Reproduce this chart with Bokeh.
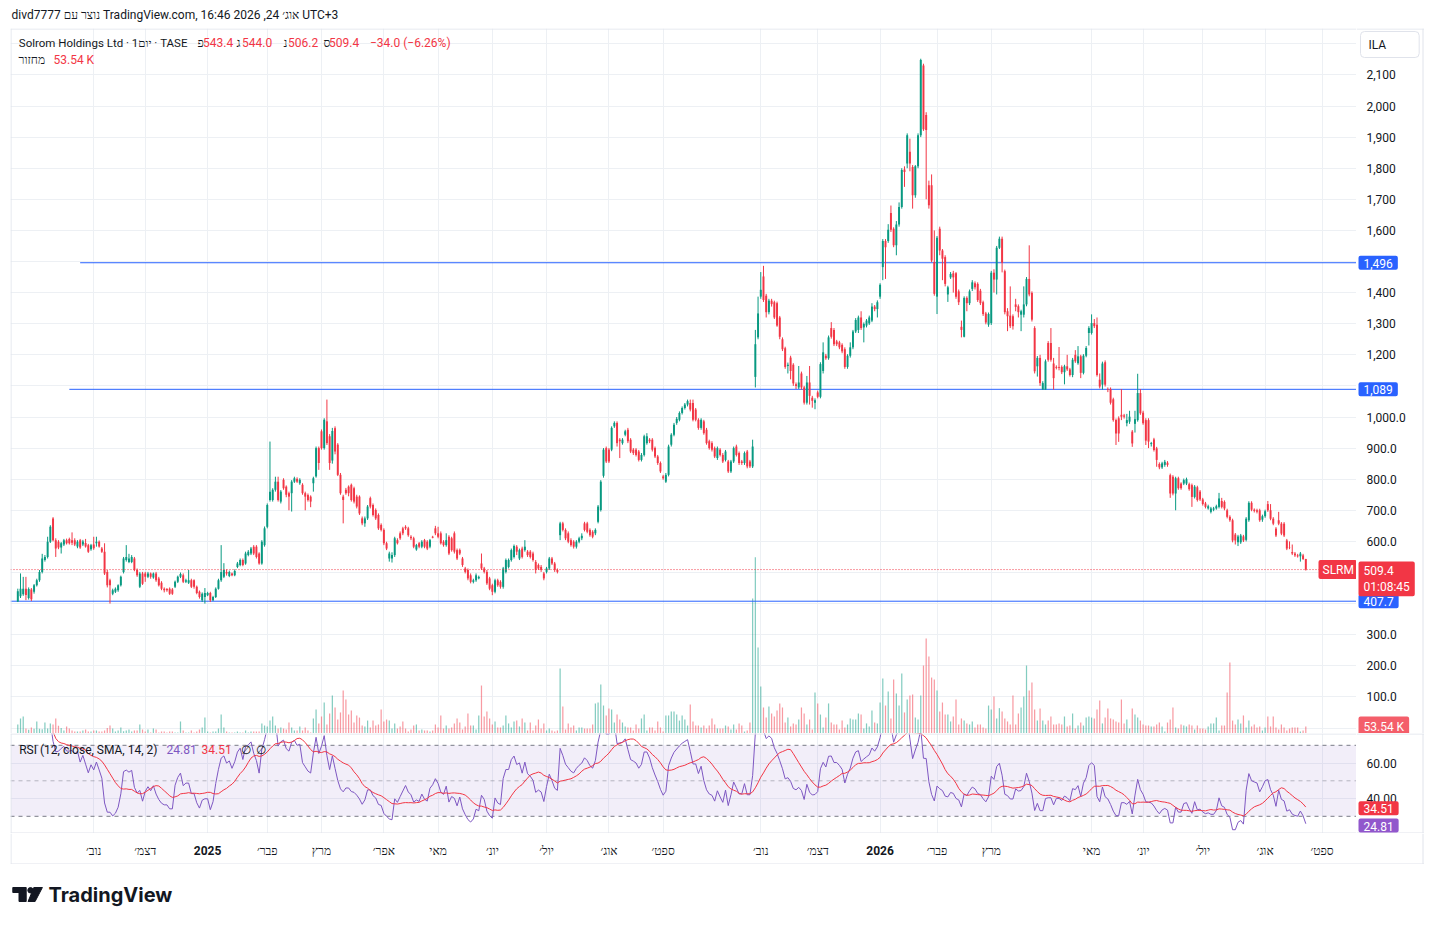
import pandas as pd
from bokeh.plotting import figure
from bokeh.models import Range1d, FixedTicker, ColumnDataSource, Span, Label, BoxAnnotation
from bokeh.layouts import column, row
from bokeh.embed import file_html
from bokeh.resources import INLINE
from bokeh.core.properties import value

# ---------------- data ----------------
opens = [
    407,424,430,448,418,445,438,459,475,502,
    540,550,599,674,604,599,580,590,604,608,
    604,604,584,604,590,595,588,575,590,594,
    599,577,567,502,475,432,438,443,459,502,
    540,534,534,545,508,454,497,497,486,497,
    484,497,481,467,448,447,448,445,454,470,
    486,491,470,467,475,475,454,438,411,421,
    427,434,411,421,448,475,486,502,489,497,
    491,518,524,540,529,556,561,583,583,561,
    529,588,647,733,733,766,792,728,798,776,
    755,755,792,801,787,782,755,749,744,787,
    809,900,954,900,986,938,
    860,964,911,814,
    744,766,776,782,771,744,744,674,658,674,
    739,717,701,685,653,637,594,545,545,556,
    604,626,642,647,642,615,610,574,594,583,
    604,599,583,615,642,626,626,599,588,615,
    610,626,572,572,545,513,508,491,470,475,
    481,529,513,502,481,459,438,475,470,454,
    502,518,540,550,583,545,577,572,567,567,
    561,534,524,518,497,502,513,545,529,508,
    620,658,637,626,604,599,583,599,610,658,
    658,637,631,626,663,701,811,900,895,895,
    970,981,927,916,943,959,927,895,895,889,
    862,878,916,927,927,900,873,852,809,792,
    814,911,943,981,991,1013,1029,1040,1045,1045,
    1024,991,965,986,959,922,916,900,868,895,
    878,862,857,825,857,905,884,857,852,889,
    857,841,
    1129,1256,1387,1452,1390,1337,1374,1369,
    1366,1320,1250,1221,1164,1191,1168,1105,1095,1140,
    1095,1046,1111,1062,1046,1079,1065,1148,1197,1189,
    1286,1280,1243,1240,1232,1218,1161,1197,1224,1275,
    1280,1320,1288,1294,1301,1310,1355,1347,1387,1482,
    1566,1566,1656,1605,1552,1619,1675,1796,1815,1853,
    1804,1713,1806,1906,2130,1971,1745,1745,1498,1387,
    1605,1535,1514,1394,1449,1462,1462,1404,1290,1258,
    1383,1366,1412,1430,1428,1406,1369,1333,1297,
    1302,
    1464,1442,1544,1573,1469,1340,1326,1324,1362,1356,
    1329,1329,1362,1444,1399,1286,1163,1190,1088,1088,
    1238,1238,1172,1161,1161,1161,1144,1163,1153,1135,
    1200,1173,1195,1142,1197,1270,1270,1302,1297,1120,
    1104,1176,1090,1090,1057,990,996,1007,1005,980,
    985,953,978,990,1077,1014,990,990,913,928,
    899,849,838,846,853,813,808,754,803,786,
    786,786,784,781,743,774,760,735,722,706,
    695,702,706,711,730,727,700,679,668,622,
    597,597,616,605,668,724,702,700,700,670,
    681,720,700,673,641,668,657,657,603,581,
    566,561,555,552,555,543.4,
]
highs = [
    448,497,486,486,452,450,463,480,508,560,
    556,615,652,678,610,604,598,608,609,612,
    629,610,604,608,605,608,592,592,615,615,
    603,582,594,508,480,448,452,462,490,550,
    588,560,556,550,513,502,502,502,502,500,
    500,502,486,472,452,450,452,450,474,490,
    500,497,480,508,480,478,458,442,436,450,
    438,438,425,452,480,588,530,510,506,500,
    510,534,545,545,567,572,582,588,588,565,
    604,648,722,921,771,808,808,765,803,780,
    760,797,808,806,803,787,760,754,748,808,
    905,905,960,996,1056,945,
    965,970,916,820,
    750,772,780,786,776,750,748,680,680,717,
    744,722,706,690,658,642,599,567,565,615,
    610,632,647,652,647,620,615,592,598,604,
    608,604,608,618,650,647,632,604,626,620,
    615,632,577,577,550,518,513,497,480,497,
    490,561,518,508,486,464,480,480,475,518,
    545,545,577,590,588,577,583,604,572,572,
    567,540,529,524,502,518,550,550,534,513,
    663,663,642,632,610,604,604,615,626,663,
    663,642,636,642,717,797,900,905,900,970,
    986,986,932,932,959,965,932,900,900,894,
    884,943,948,932,932,905,878,857,814,820,
    911,948,981,1000,1018,1034,1045,1056,1056,1056,
    1029,996,996,991,965,927,922,905,905,900,
    884,894,862,862,905,911,889,862,889,894,
    862,927,
    1280,1387,1466,1486,1396,1380,1380,1374,
    1371,1325,1256,1226,1175,1197,1173,1111,1164,1146,
    1100,1132,1164,1068,1060,1085,1176,1240,1203,1262,
    1305,1286,1248,1245,1237,1224,1202,1240,1280,1318,
    1326,1340,1304,1315,1326,1366,1360,1375,1430,1572,
    1572,1620,1680,1610,1630,1690,1800,1806,1912,1895,
    1810,1810,1912,2152,2136,1980,1760,1780,1600,1582,
    1612,1540,1520,1422,1466,1470,1466,1410,1310,1388,
    1388,1410,1440,1436,1433,1412,1374,1338,1336,
    1470,
    1475,1550,1580,1580,1474,1350,1420,1330,1380,1362,
    1345,1420,1450,1552,1404,1292,1196,1200,1115,1185,
    1244,1286,1190,1166,1225,1166,1168,1200,1158,1190,
    1215,1228,1200,1202,1228,1292,1330,1315,1320,1140,
    1178,1182,1095,1095,1062,995,1002,1090,1010,1010,
    1020,958,1020,1139,1090,1020,996,996,920,933,
    904,854,856,862,858,818,813,808,808,790,
    802,805,789,786,781,779,765,740,727,718,
    711,711,718,756,740,732,705,684,673,627,
    621,624,621,678,729,729,706,705,705,686,
    702,730,720,678,646,695,662,662,608,600,
    590,566,560,566,560,544.0,
]
lows = [
    405,418,425,411,413,408,432,455,470,497,
    535,545,595,600,550,575,561,585,590,590,
    588,585,578,576,585,580,563,570,573,583,
    580,563,492,452,400,427,434,438,455,497,
    535,530,530,504,486,450,460,470,482,480,
    480,470,455,443,436,438,428,428,450,466,
    482,466,466,463,450,448,430,416,405,400,
    424,405,408,418,445,470,482,490,485,488,
    488,514,520,520,525,552,556,556,545,525,
    525,583,642,728,728,760,728,722,766,742,
    700,696,788,788,782,750,700,728,710,760,
    805,830,895,895,910,830,
    850,880,810,750,
    658,750,745,728,722,706,685,652,647,669,
    706,680,669,637,632,588,572,535,532,550,
    590,605,620,637,615,604,578,570,578,578,
    578,572,578,610,620,610,590,583,583,556,
    567,561,540,556,518,497,475,465,465,470,
    478,508,497,460,443,427,433,454,448,448,
    497,513,535,545,556,540,545,567,550,545,
    535,497,508,502,475,497,508,524,502,497,
    604,632,604,594,583,577,577,594,604,632,
    626,615,610,620,658,696,805,852,852,890,
    965,905,868,911,938,916,884,878,873,857,
    857,873,911,916,889,868,846,820,798,788,
    809,905,938,975,986,1008,1024,1034,1018,986,
    986,959,959,943,911,895,889,868,862,873,
    852,857,820,820,852,873,846,846,846,835,
    836,836,
    1095,1250,1380,1370,1320,1330,1355,1315,
    1290,1250,1212,1155,1140,1121,1100,1090,1090,1088,
    1040,1040,1040,1030,1025,1060,1060,1140,1184,1184,
    1252,1228,1228,1218,1205,1155,1155,1191,1218,1270,
    1270,1280,1240,1288,1296,1305,1340,1320,1380,1440,
    1444,1560,1595,1546,1520,1612,1670,1740,1800,1790,
    1670,1705,1800,1900,1920,1700,1670,1498,1390,1331,
    1520,1440,1420,1370,1444,1400,1380,1360,1256,1256,
    1340,1360,1405,1410,1370,1360,1325,1298,1290,
    1296,
    1400,1394,1540,1465,1330,1276,1286,1281,1340,1320,
    1276,1320,1356,1388,1307,1140,1130,1100,1088,1088,
    1178,1178,1088,1153,1150,1138,1105,1148,1130,1128,
    1174,1168,1125,1137,1192,1230,1265,1286,1130,1092,
    1088,1098,1080,1040,985,910,920,990,995,970,
    978,904,950,985,1007,975,910,900,905,889,
    840,832,833,840,840,740,748,700,766,766,
    781,781,763,711,738,728,730,715,706,702,
    690,697,702,706,706,700,674,663,597,590,
    585,592,598,600,663,697,693,690,663,663,
    676,695,668,652,614,652,620,614,572,575,
    556,550,548,535,540,506.2,
]
closes = [
    440,448,448,428,447,414,459,475,502,545,
    550,599,647,604,577,580,594,604,594,594,
    596,590,599,580,600,584,567,588,578,599,
    584,567,497,459,459,443,448,459,486,545,
    550,545,550,508,491,497,464,486,497,486,
    497,475,459,448,443,443,432,432,470,486,
    495,470,475,475,454,454,434,421,432,434,
    434,411,421,448,475,502,508,497,502,491,
    505,529,540,524,561,567,577,561,550,529,
    599,642,717,760,766,792,733,760,771,750,
    744,792,803,792,798,755,744,733,728,803,
    900,852,900,991,916,852,
    955,889,814,755,
    733,755,755,733,728,712,690,658,674,712,
    712,685,674,642,637,594,577,561,556,610,
    594,610,626,642,620,610,583,588,583,599,
    583,577,604,612,626,615,594,588,604,561,
    572,567,545,561,524,502,481,470,475,491,
    486,513,502,465,448,438,475,459,454,513,
    540,540,572,585,567,572,550,583,556,550,
    540,508,513,508,481,513,545,529,508,502,
    658,637,610,599,588,583,599,610,618,637,
    631,620,615,637,712,792,895,857,857,965,
    981,916,922,927,954,922,889,884,878,862,
    878,938,938,922,895,873,852,825,803,814,
    905,943,975,994,1013,1029,1040,1051,1024,991,
    991,965,991,948,916,900,895,873,900,878,
    857,889,825,857,900,878,852,852,884,841,
    841,905,
    1234,1333,1409,1376,1337,1374,1363,1320,
    1294,1258,1218,1161,1168,1148,1108,1100,1111,1095,
    1046,1111,1068,1052,1054,1065,1170,1208,1189,1256,
    1258,1234,1234,1224,1211,1161,1197,1224,1275,1312,
    1320,1286,1299,1310,1320,1355,1347,1369,1425,1566,
    1546,1602,1602,1552,1619,1675,1794,1788,1906,1815,
    1713,1806,1906,2148,1925,1923,1681,1503,1396,1576,
    1535,1509,1428,1417,1460,1449,1387,1369,1280,1383,
    1366,1404,1433,1417,1376,1366,1331,1304,1331,
    1464,
    1442,1544,1573,1496,1337,1324,1292,1292,1354,1337,
    1340,1362,1444,1394,1313,1147,1190,1109,1109,1179,
    1184,1184,1125,1158,1158,1144,1163,1153,1135,1184,
    1179,1195,1142,1197,1222,1286,1302,1292,1135,1098,
    1172,1104,1088,1046,990,947,947,1001,1001,990,
    1001,915,993,1077,1012,980,924,921,916,894,
    862,838,851,856,846,754,754,803,771,771,
    797,800,768,743,776,733,735,720,711,713,
    706,706,713,738,711,706,679,668,603,603,
    616,619,603,673,724,702,698,695,668,681,
    697,700,673,657,619,657,625,619,577,580,
    561,555,552,561,543.4,509.4,
]
# volume in thousands of shares
volumes = [
    69,115,130,38,28,46,36,92,36,33,
    84,38,77,69,115,59,43,23,54,38,
    23,15,15,15,23,31,15,15,23,23,
    15,15,23,43,61,38,15,23,46,18,
    23,31,15,23,23,69,31,15,31,8,
    38,31,8,15,15,8,15,15,8,8,
    92,23,8,8,23,8,15,31,46,122,
    15,8,15,15,38,145,46,15,8,8,
    8,15,8,8,23,8,15,15,15,15,
    77,61,54,99,130,61,38,46,38,31,
    84,46,23,23,54,23,46,23,8,115,
    184,77,130,237,69,153,291,199,107,161,
    329,260,145,176,84,138,122,61,54,99,
    46,99,61,69,184,92,107,99,38,77,
    38,54,92,38,15,31,61,69,23,31,
    23,23,15,23,69,46,138,38,61,38,
    46,77,115,84,31,54,153,61,61,31,
    138,367,130,168,115,69,92,46,46,61,
    138,77,46,92,99,54,115,84,23,84,
    23,61,107,38,77,23,38,23,15,23,
    497,207,31,77,46,61,23,46,46,38,
    38,38,69,230,237,375,214,138,191,184,
    84,145,107,84,54,46,46,23,69,38,
    115,145,23,46,46,23,92,46,15,138,
    138,
    168,168,145,99,138,107,61,222,92,61,
    61,46,61,38,61,115,69,38,38,38,
    61,54,31,69,31,77,61,15,23,84,
    1033,1349,658,360,199,122,207,153,130,176,
    230,199,84,122,54,77,69,107,199,153,
    69,107,31,314,230,145,46,122,230,84,
    69,69,31,99,46,69,115,107,107,153,
    145,38,77,54,176,84,77,237,421,214,
    321,115,413,306,214,459,161,260,291,298,
    122,107,291,520,727,589,428,413,329,168,
    237,145,145,92,130,260,69,115,99,77,
    69,92,46,69,69,46,38,214,184,283,
    115,194,168,115,92,69,291,69,153,199,
    283,520,329,390,184,99,191,99,69,99,
    130,69,69,77,69,130,54,61,153,38,
    61,84,61,122,130,122,115,184,252,77,
    122,191,115,107,92,84,260,77,107,38,
    191,145,122,99,69,61,61,54,54,69,
    84,54,15,84,107,199,46,38,69,61,
    54,69,61,31,61,38,38,31,54,77,
    77,122,23,61,61,314,543,99,69,107,
    77,138,46,99,54,69,46,54,23,46,
    130,54,130,46,31,69,46,23,38,46,
    46,46,15,23,53.54,
]

month_ticks = [28, 47, 70, 92, 112, 135, 155, 175, 195, 218, 238,
               274, 295, 318, 339, 359, 396, 415, 437, 460, 481]
month_labels = ["נוב׳", "דצמ׳", "2025", "פבר׳", "מרץ", "אפר׳", "מאי", "יונ׳", "יול׳", "אוג׳", "ספט׳",
                "נוב׳", "דצמ׳", "2026", "פבר׳", "מרץ", "מאי", "יונ׳", "יול׳", "אוג׳", "ספט׳"]
price_ticks = [100, 200, 300, 600, 700, 800, 900, 1000, 1200, 1300, 1400,
               1600, 1700, 1800, 1900, 2000, 2100]
price_labels = ["100.0", "200.0", "300.0", "600.0", "700.0", "800.0", "900.0", "1,000.0",
                "1,200", "1,300", "1,400", "1,600", "1,700", "1,800", "1,900", "2,000", "2,100"]
price_grid = [0, 100, 200, 300, 400, 500, 600, 700, 800, 900, 1000, 1100,
              1200, 1300, 1400, 1500, 1600, 1700, 1800, 1900, 2000, 2100, 2200]
rsi_ticks = [40, 60]
rsi_labels = ["40.00", "60.00"]
levels = [1496.0, 1089.0, 407.7]
level_anchor_bars = [23, 19, -3]
rsi_len, rsi_sma_len = 12, 14
rsi_shown, rsi_sma_shown = 24.81, 34.51
header = "divd7777 נוצר עם TradingView.com, אוג׳ 24, 2026 16:46 UTC+3"
symbol_title = "Solrom Holdings Ltd · 1יום · TASE"
countdown = "01:08:45"

# ---------------- styling / geometry (page pixels) ----------------
FONT = "Roboto"
DARK = "#131722"
UP, DOWN = "#089981", "#F23645"
BLUE = "#2962FF"
PURPLE = "#7E57C2"
GRID = "#EDF0F4"
EDGE = "#E0E3EB"

BAR0_PX, BAR_PX = 17.3, 1288 / 475
FRAME_L, FRAME_R, PAGE_R = 10, 1356, 1424
P_Y1000, P_SLOPE = 416.5, 0.311
R_Y50, R_SLOPE = 780.3, 1.775
VOL_PER_PX = 7.65


def bx(px):
    return (px - BAR0_PX) / BAR_PX


def py(y):
    return 1000 + (P_Y1000 - y) / P_SLOPE


def ry(y):
    return 50 + (R_Y50 - y) / R_SLOPE


def bare(fig):
    fig.grid.visible = False
    fig.outline_line_color = None
    fig.background_fill_color = "white"
    fig.border_fill_color = "white"


def add_label(fig, x, y, text, color=DARK, size="12px", bold=False, align="left",
              baseline="middle", bg=None, pad=None, border=None, radius=0):
    kw = dict(x=x, y=y, text=text, text_color=color, text_font=FONT, text_font_size=size,
              text_font_style="bold" if bold else "normal", text_align=align,
              text_baseline=baseline)
    if bg is not None:
        kw.update(background_fill_color=bg, background_fill_alpha=1.0, border_radius=radius)
    if pad is not None:
        kw.update(padding=pad)
    if border is not None:
        kw.update(border_line_color=border, border_line_alpha=1.0, border_line_width=1)
    fig.add_layout(Label(**kw))


def edge(fig, loc, dim):
    fig.add_layout(Span(location=loc, dimension=dim, line_color=EDGE, line_width=1))


def fmt_price(v):
    return f"{v:,.0f}" if v >= 1000 else f"{v:.1f}"


n = len(closes)
idx = list(range(n))
cols = [UP if c >= o else DOWN for o, c in zip(opens, closes)]
src = ColumnDataSource(dict(
    x=idx, h=highs, l=lows,
    top=[max(o, c) for o, c in zip(opens, closes)],
    bot=[min(o, c) for o, c in zip(opens, closes)],
    col=cols, v=volumes,
))

# RSI(12) as TradingView computes it (RMA seeded with an SMA), then its SMA(14)
gains = [0.0] + [max(b - a, 0.0) for a, b in zip(closes[:-1], closes[1:])]
losses = [0.0] + [max(a - b, 0.0) for a, b in zip(closes[:-1], closes[1:])]
nan = float("nan")
ag, al = [nan] * n, [nan] * n
ag[rsi_len] = sum(gains[1:rsi_len + 1]) / rsi_len
al[rsi_len] = sum(losses[1:rsi_len + 1]) / rsi_len
for i in range(rsi_len + 1, n):
    ag[i] = (ag[i - 1] * (rsi_len - 1) + gains[i]) / rsi_len
    al[i] = (al[i - 1] * (rsi_len - 1) + losses[i]) / rsi_len
rsi_vals = [nan if g != g else (100.0 if l == 0 else 100 - 100 / (1 + g / l)) for g, l in zip(ag, al)]
rsi = pd.Series(rsi_vals)
rsi_sma = rsi.rolling(rsi_sma_len, min_periods=1).mean()

xr = Range1d(bx(FRAME_L), bx(FRAME_R))
pyr = Range1d(py(733), py(28))
ryr = Range1d(ry(833), ry(733))
common = dict(toolbar_location=None, output_backend="svg",
              x_axis_location=None, y_axis_location=None)

# ---------------- header ----------------
ph = figure(width=PAGE_R, height=28, x_range=Range1d(FRAME_L, PAGE_R), y_range=Range1d(28, 0),
            min_border_left=FRAME_L, min_border_right=0, min_border_top=0, min_border_bottom=0,
            **common)
bare(ph)
ph.text(x=[11], y=[14], text=[header], text_font=value(FONT), text_font_size="12px",
        text_color=DARK, text_baseline="middle")

# ---------------- price pane ----------------
p = figure(width=FRAME_R, height=705, x_range=xr, y_range=pyr, min_border_left=FRAME_L,
           min_border_right=0, min_border_top=0, min_border_bottom=0, **common)
p.outline_line_color = None
p.xgrid.ticker = FixedTicker(ticks=month_ticks)
p.ygrid.ticker = FixedTicker(ticks=price_grid)
p.grid.grid_line_color = GRID
p.xgrid.visible = True
p.ygrid.visible = True

p.extra_y_ranges = {"vol": Range1d(0, 705 * VOL_PER_PX)}
p.vbar(x="x", width=0.45, top="v", bottom=0, fill_color="col", fill_alpha=0.5,
       line_color=None, y_range_name="vol", source=src)
p.segment(x0=[max(a, xr.start) for a in level_anchor_bars], y0=levels,
          x1=[xr.end] * len(levels), y1=levels, line_color=BLUE, line_width=1)
p.add_layout(Span(location=closes[-1], dimension="width", line_color=DOWN,
                  line_dash="1 2", line_width=1))
p.segment(x0="x", y0="l", x1="x", y1="h", line_color="col", line_width=1, source=src)
p.vbar(x="x", width=0.72, top="top", bottom="bot", fill_color="col", line_color=None, source=src)
edge(p, bx(10.5), "height")
edge(p, py(28.5), "width")

row1 = py(42.3)
add_label(p, bx(18.3), row1, symbol_title, size="11.5px")
chg = closes[-1] - closes[-2]
pct = chg / closes[-2] * 100
items = [("פ", 197, DARK), (f"{opens[-1]:.1f}", 202.5, DOWN),
         ("ג", 236, DARK), (f"{highs[-1]:.1f}", 241.5, DOWN),
         ("נ", 283, DARK), (f"{lows[-1]:.1f}", 287.5, DOWN),
         ("ס", 323, DARK), (f"{closes[-1]:.1f}", 328.5, DOWN),
         (f"{chg:.1f} ({pct:.2f}%)".replace("-", "−"), 369.5, DOWN)]
for t, xp, c in items:
    add_label(p, bx(xp), row1, t, color=c)
row2 = py(59.5)
add_label(p, bx(18), row2, "מחזור")
add_label(p, bx(53), row2, f"{volumes[-1]:.2f} K", color=DOWN)
add_label(p, bx(1318), closes[-1], "SLRM", color="white", bg=DOWN,
          pad=dict(left=4, right=3, top=3, bottom=2), radius=2)

# price scale (right side)
ps = figure(width=PAGE_R - FRAME_R, height=705, x_range=Range1d(FRAME_R, PAGE_R), y_range=pyr,
            min_border=0, **common)
bare(ps)
ps.text(x=[1366] * len(price_ticks), y=price_ticks, text=price_labels, text_font=value(FONT),
        text_font_size="12px", text_color=DARK, text_baseline="middle")
edge(ps, py(28.5), "width")
edge(ps, 1422.5, "height")
pad_box = dict(left=5, right=5, top=3, bottom=2)
for lv in levels:
    add_label(ps, 1358, lv, fmt_price(lv), color="white", bg=BLUE, pad=pad_box, radius=2)
add_label(ps, 1358, py(561), f"{closes[-1]:.1f}\n{countdown}", color="white",
          baseline="top", bg=DOWN, pad=dict(left=5, right=5, top=2, bottom=2), radius=2)
add_label(ps, 1358, py(725.5), f"{volumes[-1]:.2f} K", color="white",
          bg="#F45E6A", pad=pad_box, radius=2)
add_label(ps, 1360, py(44), "ILA", bg="white",
          pad=dict(left=8, right=33, top=6, bottom=6), border=EDGE, radius=4)

# ---------------- RSI pane ----------------
p2 = figure(width=FRAME_R, height=100, x_range=xr, y_range=ryr, min_border_left=FRAME_L,
            min_border_right=0, min_border_top=0, min_border_bottom=0, **common)
p2.outline_line_color = None
p2.xgrid.ticker = FixedTicker(ticks=month_ticks)
p2.ygrid.ticker = FixedTicker(ticks=rsi_ticks)
p2.grid.grid_line_color = GRID
p2.xgrid.visible = True
p2.ygrid.visible = True
p2.add_layout(BoxAnnotation(bottom=30, top=70, fill_color=PURPLE, fill_alpha=0.1,
                            line_color=None, level="underlay"))
for lv, a in [(70, 1.0), (50, 0.5), (30, 1.0)]:
    p2.add_layout(Span(location=lv, dimension="width", line_color="#787B86", line_alpha=a,
                       line_dash="4 4", line_width=1, level="underlay"))
p2.line(idx, rsi.tolist(), line_color=PURPLE, line_width=1)
p2.line(idx, rsi_sma.tolist(), line_color=DOWN, line_width=1)
edge(p2, ry(733.5), "width")
edge(p2, ry(832.5), "width")
edge(p2, bx(10.5), "height")

lr = ry(749)
add_label(p2, bx(18.7), lr, f"RSI ({rsi_len}, close, SMA, {rsi_sma_len}, 2)")
add_label(p2, bx(166), lr, f"{rsi_shown:.2f}", color=PURPLE)
add_label(p2, bx(201), lr, f"{rsi_sma_shown:.2f}", color=DOWN)
add_label(p2, bx(240), lr, "∅")
add_label(p2, bx(255), lr, "∅")

rs = figure(width=PAGE_R - FRAME_R, height=100, x_range=Range1d(FRAME_R, PAGE_R), y_range=ryr,
            min_border=0, **common)
bare(rs)
rs.text(x=[1366] * len(rsi_ticks), y=rsi_ticks, text=rsi_labels, text_font=value(FONT),
        text_font_size="12px", text_color=DARK, text_baseline="middle")
edge(rs, ry(733.5), "width")
edge(rs, ry(832.5), "width")
edge(rs, 1422.5, "height")
add_label(rs, 1358, rsi_sma_shown, f"{rsi_sma_shown:.2f}", color="white",
          bg=DOWN, pad=pad_box, radius=2)
add_label(rs, 1358, rsi_shown, f"{rsi_shown:.2f}", color="white",
          bg="#9157CC", pad=pad_box, radius=2)

# ---------------- time scale ----------------
px_ = figure(width=PAGE_R, height=31, x_range=Range1d(bx(FRAME_L), bx(PAGE_R)),
             y_range=Range1d(864, 833), min_border_left=FRAME_L, min_border_right=0,
             min_border_top=0, min_border_bottom=0, **common)
bare(px_)
years = {"2025", "2026"}
reg = [(t, l) for t, l in zip(month_ticks, month_labels) if l not in years]
yrs = [(t, l) for t, l in zip(month_ticks, month_labels) if l in years]
px_.text(x=[t for t, _ in reg], y=[850] * len(reg), text=[l for _, l in reg],
         text_font=value(FONT), text_font_size="12px", text_color=DARK,
         text_align="center", text_baseline="middle")
px_.text(x=[t for t, _ in yrs], y=[850] * len(yrs), text=[l for _, l in yrs],
         text_font=value(FONT), text_font_size="12px", text_font_style="bold",
         text_color=DARK, text_align="center", text_baseline="middle")
edge(px_, bx(10.5), "height")
edge(px_, bx(1422.5), "height")
edge(px_, 863.5, "width")

# ---------------- logo ----------------
pl = figure(width=300, height=53, x_range=Range1d(FRAME_L, 300), y_range=Range1d(917, 864),
            min_border_left=FRAME_L, min_border_right=0, min_border_top=0, min_border_bottom=0,
            **common)
bare(pl)
pl.patch([12.3, 25.7, 25.7, 18.5, 18.5, 12.3], [887, 887, 901, 901, 892, 892], color=DARK)
pl.circle(x=[30], y=[889.8], radius=2.7, color=DARK)
pl.patch([33.3, 41.9, 34.6, 27.6], [887, 887, 901, 901], color=DARK)
pl.text(x=[48], y=[894.5], text=["TradingView"], text_font=value("Inter"),
        text_font_style="bold", text_font_size="20px", text_color=DARK, text_baseline="middle")

layout = column(ph, row(p, ps), row(p2, rs), px_, pl)
open("out.html", "w").write(file_html(layout, INLINE, title="SLRM"))
